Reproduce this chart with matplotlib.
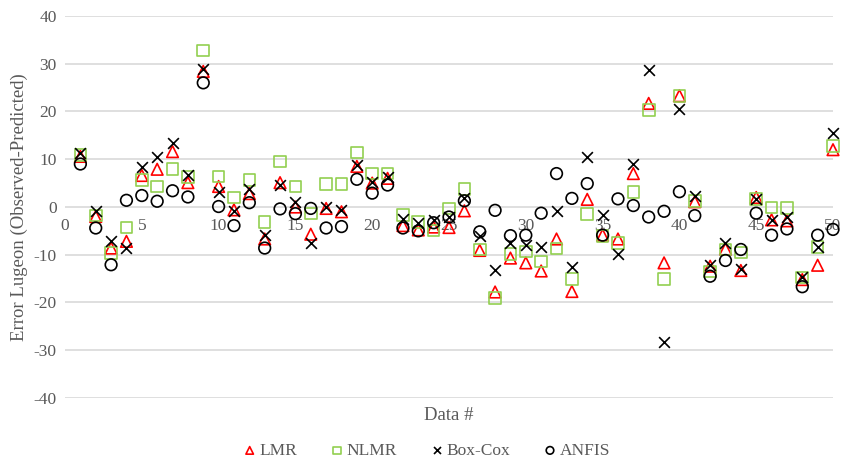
import numpy as np
import matplotlib
matplotlib.use("Agg")
import matplotlib.pyplot as plt

plt.rcParams['font.family'] = ['Liberation Serif', 'DejaVu Serif']
plt.rcParams['axes.unicode_minus'] = False

data_no = np.arange(1, 51)

lmr = [10.6, -2.0, -8.6, -7.2, 6.6, 7.9, 11.6, 5.1, 28.4, 4.3,
       -0.6, 2.8, -6.7, 5.1, 0.0, -5.7, -0.3, -1.0, 8.5, 5.0,
       6.0, -3.9, -4.8, -4.2, -4.3, -0.8, -9.1, -17.8, -10.7, -11.7,
       -13.4, -6.7, -17.7, 1.6, -5.9, -6.7, 7.0, 21.7, -11.7, 23.3,
       1.1, -12.4, -8.8, -13.3, 2.0, -2.7, -2.9, -15.2, -12.2, 12.0]

nlmr = [10.9, -1.8, -9.6, -4.3, 5.6, 4.3, 7.9, 6.3, 32.8, 6.4,
        2.0, 5.7, -3.2, 9.5, 4.3, -1.4, 4.8, 4.8, 11.4, 7.0,
        7.0, -1.7, -3.1, -4.9, -0.3, 3.8, -8.9, -19.0, -9.8, -9.3,
        -11.4, -8.7, -15.1, -1.5, -6.1, -7.6, 3.2, 20.3, -15.1, 23.3,
        1.2, -13.5, -8.9, -9.5, 1.7, -0.1, -0.2, -14.8, -8.4, 12.8]

box_cox = [11.4, -0.8, -7.1, -8.6, 8.3, 10.4, 13.5, 6.7, 29.0, 3.2,
           -0.8, 3.7, -5.9, 4.7, 1.0, -7.5, -0.1, -0.7, 8.7, 5.2,
           6.3, -2.5, -3.3, -2.7, -2.0, 1.8, -6.1, -13.2, -7.5, -7.9,
           -8.3, -0.9, -12.5, 10.5, -1.7, -9.8, 8.9, 28.7, -28.3, 20.6,
           2.2, -12.1, -7.5, -13.0, 1.7, -2.8, -2.0, -14.6, -8.3, 15.6]

anfis = [9.0, -4.4, -12.1, 1.4, 2.4, 1.2, 3.4, 2.1, 26.0, 0.1,
         -3.9, 0.9, -8.6, -0.4, -1.4, -0.3, -4.4, -4.1, 5.8, 2.9,
         4.6, -4.4, -5.0, -3.3, -2.1, 1.3, -5.2, -0.7, -6.0, -5.9,
         -1.3, 7.0, 1.8, 4.9, -5.9, 1.7, 0.3, -2.1, -0.9, 3.2,
         -1.8, -14.5, -11.2, -8.9, -1.3, -5.9, -4.6, -16.7, -5.9, -4.7]

fig = plt.figure(figsize=(8.41, 4.61), dpi=100)
ax = fig.add_axes([0.0773, 0.1367, 0.9132, 0.8286])

gray = '#595959'
ax.scatter(data_no, lmr, marker='^', s=70, facecolors='none',
           edgecolors='#ff0000', linewidths=1.2, label='LMR', zorder=3,
           clip_on=False)
ax.scatter(data_no, nlmr, marker='s', s=70, facecolors='none',
           edgecolors='#92d050', linewidths=1.2, label='NLMR', zorder=3,
           clip_on=False)
ax.scatter(data_no, box_cox, marker='x', s=60, color='black',
           linewidths=1.2, label='Box-Cox', zorder=4, clip_on=False)
ax.scatter(data_no, anfis, marker='o', s=70, facecolors='none',
           edgecolors='black', linewidths=1.2, label='ANFIS', zorder=4,
           clip_on=False)

ax.set_xlim(0, 50)
ax.set_ylim(-40, 40)
ax.set_xticks(np.arange(0, 51, 5))
ax.set_yticks(np.arange(-40, 41, 10))
ax.grid(axis='y', color='#d9d9d9', linewidth=1.2, zorder=0)
ax.set_axisbelow(True)

# x labels sit on the zero line
ax.spines['bottom'].set_position(('data', 0))
for side in ['top', 'right', 'left', 'bottom']:
    ax.spines[side].set_visible(False)
ax.tick_params(axis='both', length=0, labelsize=12.5, labelcolor=gray)
ax.tick_params(axis='x', pad=8)
ax.tick_params(axis='y', pad=6)

ax.set_ylabel('Error Lugeon (Observed-Predicted)', fontsize=13.5, color=gray)
ax.text(0.5, -0.045, 'Data #', transform=ax.transAxes, ha='center',
        va='center', fontsize=13.5, color=gray)

fig.legend(loc='center', bbox_to_anchor=(0.507, 0.022), ncol=4, frameon=False,
           fontsize=12.5, handlelength=0.8, handletextpad=0.15,
           columnspacing=1.9, labelcolor=gray, markerscale=0.65)

fig.savefig('out.png', dpi=100)
